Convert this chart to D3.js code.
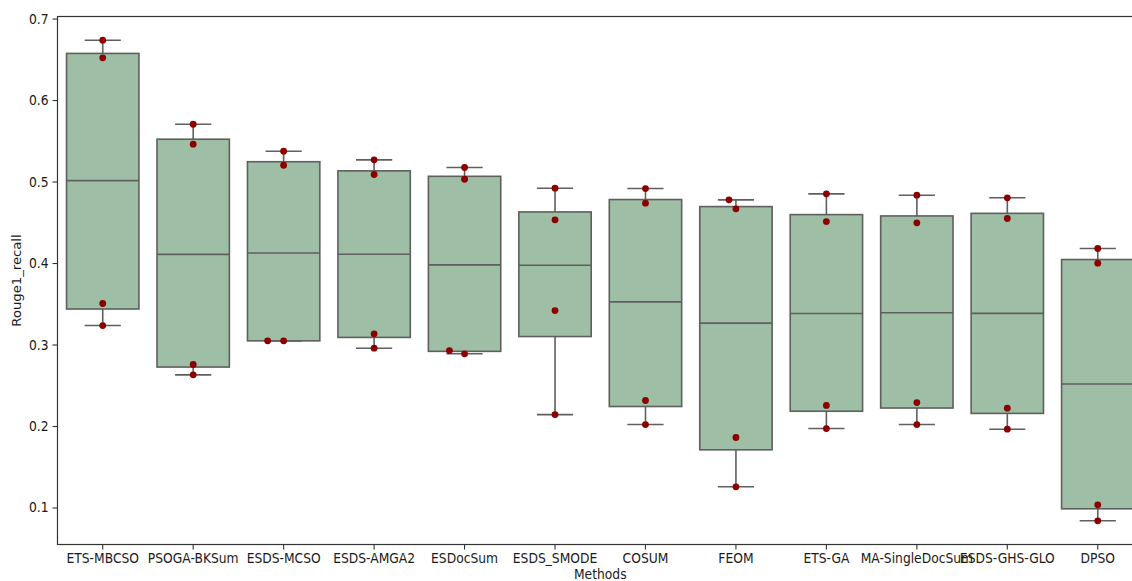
<!DOCTYPE html>
<html>
<head>
<meta charset="utf-8">
<script src="https://cdn.jsdelivr.net/npm/d3@7"></script>
<style>
  html, body { margin: 0; padding: 0; background: #fff; }
  svg { display: block; font-family: "DejaVu Sans", sans-serif; }
</style>
</head>
<body>
<svg id="chart" width="1132" height="581"></svg>
<script>
// ---- data ----
const methods = ["ETS-MBCSO", "PSOGA-BKSum", "ESDS-MCSO", "ESDS-AMGA2", "ESDocSum", "ESDS_SMODE",
                 "COSUM", "FEOM", "ETS-GA", "MA-SingleDocSum", "ESDS-GHS-GLO", "DPSO"];
const run1 = [0.3233, 0.2628, 0.3045, 0.2955, 0.2886, 0.2140, 0.2018, 0.1254, 0.1969, 0.2018, 0.1961, 0.0837];
const run2 = [0.3503, 0.2755, 0.3045, 0.3131, 0.2926, 0.3417, 0.2313, 0.1859, 0.2252, 0.2288, 0.2219, 0.1033];
const run3 = [0.6518, 0.5458, 0.5200, 0.5086, 0.5028, 0.4530, 0.4734, 0.4665, 0.4509, 0.4493, 0.4546, 0.3998];
const run4 = [0.6734, 0.5703, 0.5372, 0.5266, 0.5172, 0.4918, 0.4914, 0.4775, 0.4849, 0.4832, 0.4800, 0.4178];
const yTicks = [0.1, 0.2, 0.3, 0.4, 0.5, 0.6, 0.7];
const xLabel = "Methods";
const yLabel = "Rouge1_recall";

(function () {
// ---- layout ----
const svg = d3.select("#chart");
const mLeft = 57.5, mRight = 1143, mTop = 16.5, mBottom = 544.5;
const x = d3.scaleBand().domain(methods).range([mLeft, mRight]).paddingInner(0).paddingOuter(0);
const y = d3.scaleLinear().domain([0.0546, 0.7025]).range([mBottom, mTop]);

const boxFill = "#9ebea5";
const lineCol = "#5f5f5f";
const ptCol = "#8b0000";
const boxW = x.bandwidth() * 0.8;
const FS = 14, SX = 0.88;

const groups = methods.map((m, i) => {
  const vals = [run1[i], run2[i], run3[i], run4[i]].sort(d3.ascending);
  const q1 = d3.quantile(vals, 0.25), med = d3.quantile(vals, 0.5), q3 = d3.quantile(vals, 0.75);
  const iqr = q3 - q1;
  const lo = d3.min(vals.filter(v => v >= q1 - 1.5 * iqr));
  const hi = d3.max(vals.filter(v => v <= q3 + 1.5 * iqr));
  return { m, vals, q1, med, q3, lo, hi, cx: x(m) + x.bandwidth() / 2 };
});

const g = svg.append("g");

groups.forEach(d => {
  g.append("line").attr("x1", d.cx).attr("x2", d.cx).attr("y1", y(d.hi)).attr("y2", y(d.q3))
    .attr("stroke", lineCol).attr("stroke-width", 1.6);
  g.append("line").attr("x1", d.cx).attr("x2", d.cx).attr("y1", y(d.q1)).attr("y2", y(d.lo))
    .attr("stroke", lineCol).attr("stroke-width", 1.6);
  [d.hi, d.lo].forEach(v => {
    g.append("line").attr("x1", d.cx - boxW / 4).attr("x2", d.cx + boxW / 4)
      .attr("y1", y(v)).attr("y2", y(v)).attr("stroke", lineCol).attr("stroke-width", 1.6);
  });
  g.append("rect").attr("x", d.cx - boxW / 2).attr("width", boxW)
    .attr("y", y(d.q3)).attr("height", y(d.q1) - y(d.q3))
    .attr("fill", boxFill).attr("stroke", lineCol).attr("stroke-width", 1.6);
  g.append("line").attr("x1", d.cx - boxW / 2).attr("x2", d.cx + boxW / 2)
    .attr("y1", y(d.med)).attr("y2", y(d.med)).attr("stroke", lineCol).attr("stroke-width", 1.6);
});

// swarm points (beeswarm placement like seaborn)
const D = 15.24, K = 1.53;
groups.forEach(d => {
  const placed = [];
  d.vals.forEach(v => {
    const py = y(v);
    const cands = [d.cx];
    let leftFirst = true;
    placed.forEach(p => {
      const dy = (py - p.y) * K;
      if (Math.abs(dy) < D) {
        const dx = Math.sqrt(Math.max(D * D - dy * dy, 0)) * 1.05;
        const cl = p.x - dx, cr = p.x + dx;
        if (leftFirst) cands.push(cl, cr); else cands.push(cr, cl);
        leftFirst = !leftFirst;
      }
    });
    const order = cands.map((c, k) => [Math.abs(c - d.cx), k, c]).sort((a, b) => a[0] - b[0] || a[1] - b[1]);
    let px = d.cx;
    for (const [, , c] of order) {
      const ok = placed.every(p => {
        const dx = c - p.x, dy = (py - p.y) * K;
        return dx * dx + dy * dy >= D * D - 1e-6;
      });
      if (ok) { px = c; break; }
    }
    placed.push({ x: px, y: py });
    g.append("circle").attr("cx", px).attr("cy", py).attr("r", 3.4).attr("fill", ptCol);
  });
});

// horizontally condensed text (reference text is narrower than tall)
function squeeze(sel) {
  sel.each(function () {
    const t = d3.select(this);
    const x0 = +(t.attr("x") || 0);
    t.attr("transform", `translate(${x0 * (1 - SX)},0) scale(${SX},1)`);
  });
}

// axes
const axY = svg.append("g").attr("transform", `translate(${mLeft},0)`)
  .call(d3.axisLeft(y).tickValues(yTicks).tickFormat(d3.format(".1f")).tickSize(5).tickPadding(4));
const axX = svg.append("g").attr("transform", `translate(0,${mBottom})`)
  .call(d3.axisBottom(x).tickSize(5).tickPadding(4));
[axY, axX].forEach(a => {
  a.select(".domain").remove();
  a.selectAll("line").attr("stroke", "#333").attr("stroke-width", 1.1);
  a.selectAll("text").attr("font-size", FS).attr("fill", "#1a1a1a").attr("font-family", "DejaVu Sans")
    .call(squeeze);
});

// spines
svg.append("rect").attr("x", mLeft).attr("y", mTop).attr("width", mRight - mLeft).attr("height", mBottom - mTop)
  .attr("fill", "none").attr("stroke", "#333").attr("stroke-width", 1.2);

// labels
const xc = (mLeft + mRight) / 2;
svg.append("text").attr("transform", `translate(${xc},578.5) scale(${SX},1)`).attr("text-anchor", "middle")
  .attr("font-size", FS).attr("fill", "#1a1a1a").text(xLabel);
svg.append("text").attr("transform", `translate(21,${(mTop + mBottom) / 2}) rotate(-90) scale(1,${SX})`)
  .attr("text-anchor", "middle").attr("font-size", 13.2).attr("fill", "#1a1a1a").text(yLabel);
})();
</script>
</body>
</html>
